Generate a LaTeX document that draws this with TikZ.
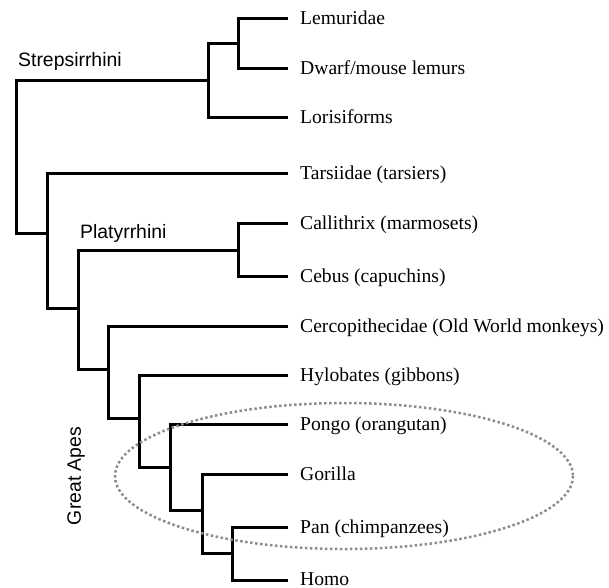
\documentclass[tikz,border=0pt]{standalone}
\usepackage{fontspec}
\setmainfont{Liberation Serif}
\setsansfont{Liberation Sans}
\usepackage{tikz}
\usetikzlibrary{positioning}

\begin{document}
\begin{tikzpicture}[x=1pt,y=-1pt,
    branch/.style={line width=3pt},
    leaf/.style={anchor=west,inner xsep=12pt,inner ysep=0pt,text height=12pt,text depth=0pt,
      font=\fontsize{19.6}{22}\selectfont},
    clade/.style={inner sep=0pt,font=\sffamily\fontsize{19.4}{22}\selectfont},
    apes/.style={draw=gray!90,line width=2.5pt,dash pattern=on 2.5pt off 2.5pt}]
    \useasboundingbox (0,0) rectangle (609,587);
    % leaves
    \node[leaf] (lem) at (288,18) {Lemuridae};
    \node[leaf] (dwarf) at (288,68) {Dwarf/mouse lemurs};
    \node[leaf] (loris) at (288,117) {Lorisiforms};
    \node[leaf] (tars) at (288,173) {Tarsiidae (tarsiers)};
    \node[leaf] (calli) at (288,223) {Callithrix (marmosets)};
    \node[leaf] (cebus) at (288,276) {Cebus (capuchins)};
    \node[leaf] (cerco) at (288,326) {Cercopithecidae (Old World monkeys)};
    \node[leaf] (hylo) at (288,375) {Hylobates (gibbons)};
    \node[leaf] (pongo) at (288,424) {Pongo (orangutan)};
    \node[leaf] (gor) at (288,474) {Gorilla};
    \node[leaf] (pan) at (288,527) {Pan (chimpanzees)};
    \node[leaf,text height=10pt] (homo) at (288,580) {Homo};
    % branch points
    \coordinate (lemdw) at (238,43);
    \coordinate (strep) at (208,80);
    \coordinate (root) at (16,156);
    \coordinate (hapl) at (47,233);
    \coordinate (anth) at (78,308);
    \coordinate (platy) at (238,250);
    \coordinate (catar) at (108,369);
    \coordinate (hominoid) at (139,418);
    \coordinate (hominid) at (170,467);
    \coordinate (homininae) at (202,510);
    \coordinate (hominini) at (232,553);
    \draw[branch] (lemdw) |- (lem.west) (lemdw) |- (dwarf.west);
    \draw[branch] (strep) |- (lemdw) (strep) |- (loris.west);
    \draw[branch] (root) |- (strep) (root) |- (hapl);
    \draw[branch] (hapl) |- (tars.west) (hapl) |- (anth);
    \draw[branch] (anth) |- (platy) (anth) |- (catar);
    \draw[branch] (platy) |- (calli.west) (platy) |- (cebus.west);
    \draw[branch] (catar) |- (cerco.west) (catar) |- (hominoid);
    \draw[branch] (hominoid) |- (hylo.west) (hominoid) |- (hominid);
    \draw[branch] (hominid) |- (pongo.west) (hominid) |- (homininae);
    \draw[branch] (homininae) |- (gor.west) (homininae) |- (hominini);
    \draw[branch] (hominini) |- (pan.west) (hominini) |- (homo.west);
    % clade labels
    \node[clade,anchor=west] (strepl) at (18,61) {Strepsirrhini};
    \node[clade,anchor=west] (platyl) at (80,233) {Platyrrhini};
    \node[clade,rotate=90] (apesl) at (76,476) {Great Apes};
    \draw[apes] (344,476) ellipse [x radius=229,y radius=73];
\end{tikzpicture}
\end{document}
